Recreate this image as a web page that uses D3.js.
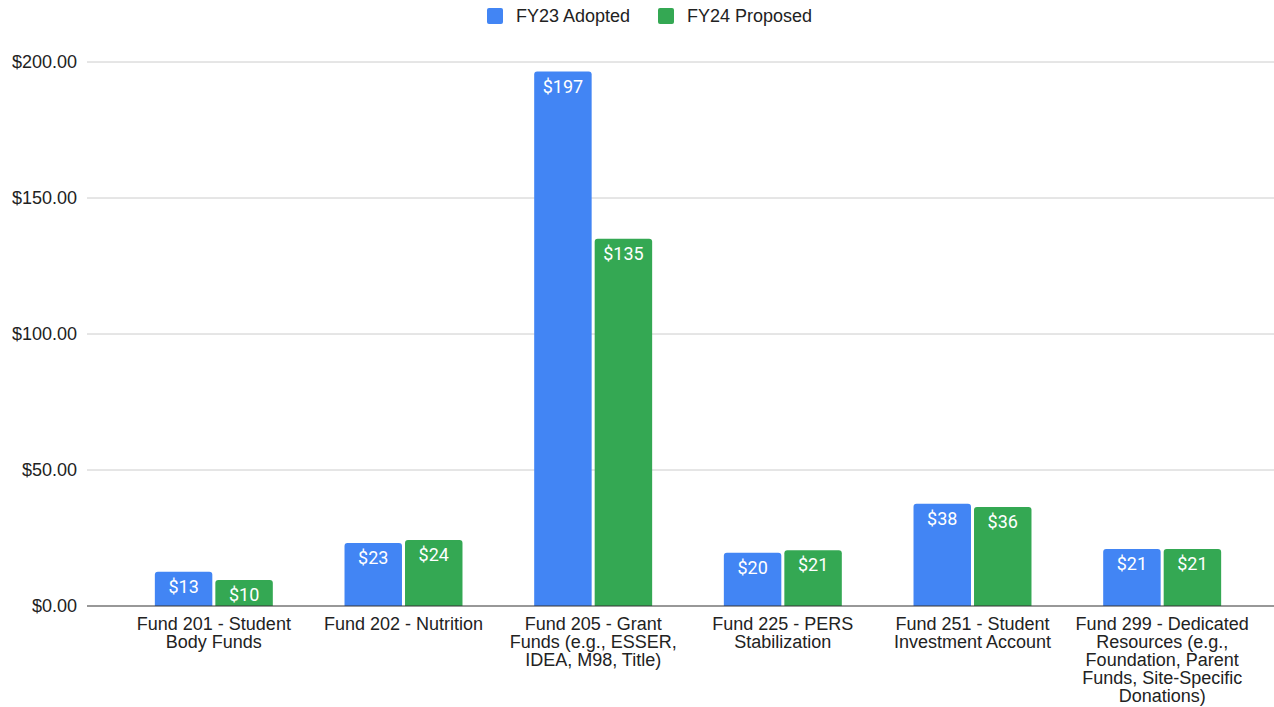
<!DOCTYPE html>
<html><head><meta charset="utf-8">
<script src="https://cdn.jsdelivr.net/npm/d3@7"></script>
<style>body{margin:0;background:#fff}svg{display:block}</style>
</head><body><svg id="c" width="1274" height="707"></svg>
<script>
const categories = [
  "Fund 201 - Student\nBody Funds",
  "Fund 202 - Nutrition",
  "Fund 205 - Grant\nFunds (e.g., ESSER,\nIDEA, M98, Title)",
  "Fund 225 - PERS\nStabilization",
  "Fund 251 - Student\nInvestment Account",
  "Fund 299 - Dedicated\nResources (e.g.,\nFoundation, Parent\nFunds, Site-Specific\nDonations)"
];
const seriesNames = ["FY23 Adopted", "FY24 Proposed"];
const fy23 = [12.6, 23.2, 196.5, 19.6, 37.6, 21.0];
const fy24 = [9.6, 24.3, 135.0, 20.5, 36.4, 21.0];
const yTicks = [0, 50, 100, 150, 200];
const colors = ["#4285F4", "#34A853"];

const FONT = "Arial, 'Liberation Sans', sans-serif";
const svg = d3.select("#c");
const y = d3.scaleLinear().domain([0, 200]).range([606, 62]);
const x = d3.scaleBand().domain(categories).range([119, 1257]).paddingInner(0.378).paddingOuter(0.189);
const xs = d3.scaleBand().domain(seriesNames).range([0, x.bandwidth()]).paddingInner(0.05);

const yAxis = d3.axisLeft(y).tickValues(yTicks).tickFormat(d => "$" + d3.format(".2f")(d)).tickSize(0).tickPadding(10);
const ga = svg.append("g").attr("transform", "translate(87,0)").call(yAxis);
ga.select(".domain").remove();
ga.selectAll("text").attr("font-family", FONT).attr("font-size", 18).attr("fill", "#222");
svg.append("g").selectAll("line").data(yTicks.filter(d => d > 0)).join("line")
  .attr("x1", 87).attr("x2", 1274).attr("y1", d => y(d)).attr("y2", d => y(d))
  .attr("stroke", "#ccc").attr("stroke-width", 1);

const data = categories.map((c, i) => ({cat: c, vals: [fy23[i], fy24[i]]}));
function barPath(x0, w, yt, yb, r) {
  return `M${x0},${yb}V${yt + r}Q${x0},${yt} ${x0 + r},${yt}H${x0 + w - r}Q${x0 + w},${yt} ${x0 + w},${yt + r}V${yb}Z`;
}
const groups = svg.append("g").selectAll("g").data(data).join("g")
  .attr("transform", d => `translate(${x(d.cat)},0)`);
groups.selectAll("path").data(d => d.vals.map((v, j) => ({v, s: seriesNames[j], j}))).join("path")
  .attr("d", d => barPath(xs(d.s), xs.bandwidth(), y(d.v), y(0), 3))
  .attr("fill", d => colors[d.j]);
groups.selectAll("text.lbl").data(d => d.vals.map((v, j) => ({v, s: seriesNames[j], j}))).join("text")
  .attr("class", "lbl")
  .attr("x", d => xs(d.s) + xs.bandwidth() / 2)
  .attr("y", d => y(d.v) + 21)
  .attr("text-anchor", "middle")
  .attr("font-family", "Roboto, sans-serif").attr("font-size", 18).attr("fill", "#fff")
  .text(d => "$" + Math.round(d.v));

svg.append("line").attr("x1", 87).attr("x2", 1274).attr("y1", y(0)).attr("y2", y(0)).attr("stroke", "#333").attr("stroke-width", 1.2);

const xl = svg.append("g").selectAll("text").data(categories).join("text")
  .attr("text-anchor", "middle")
  .attr("font-family", FONT).attr("font-size", 18).attr("fill", "#222")
  .attr("transform", d => `translate(${x(d) + x.bandwidth() / 2},630)`);
xl.selectAll("tspan").data(d => d.split("\n")).join("tspan")
  .attr("x", 0).attr("y", (d, i) => i * 18).text(d => d);

const lg = svg.append("g");
const legX = [487, 658];
seriesNames.forEach((s, i) => {
  lg.append("rect").attr("x", legX[i]).attr("y", 8).attr("width", 16).attr("height", 16).attr("rx", 2).attr("fill", colors[i]);
  lg.append("text").attr("x", legX[i] + 29).attr("y", 22)
    .attr("font-family", FONT).attr("font-size", 18).attr("fill", "#222").text(s);
});
</script></body></html>
